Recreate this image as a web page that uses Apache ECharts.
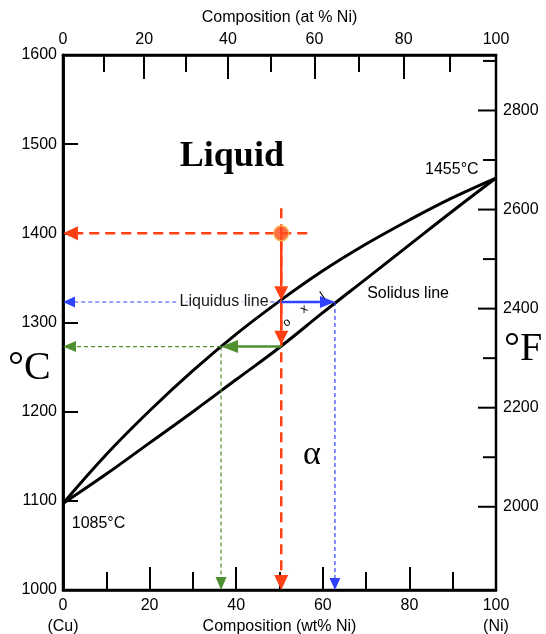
<!DOCTYPE html>
<html><head><meta charset="utf-8">
<script src="https://cdn.jsdelivr.net/npm/echarts@6/dist/echarts.min.js"></script>
<style>html,body{margin:0;padding:0;background:#fff}#c{width:546px;height:634px}</style>
</head><body><div id="c"></div><script>
// ---- data ----
const wtNi = [0, 10, 20, 30, 40, 50, 60, 70, 80, 90, 100];
const liquidusC = [1097, 1152, 1201, 1246, 1287, 1324, 1358, 1388, 1415, 1440, 1462];
const solidusC = [1097, 1130, 1165, 1200, 1236, 1272, 1311, 1349, 1387, 1425, 1462];
const celsiusTicks = [1000, 1100, 1200, 1300, 1400, 1500, 1600];
const fahrenheitMajor = [2000, 2200, 2400, 2600, 2800];
const fahrenheitMinor = [2100, 2300, 2500, 2700, 2900];
const atMajor = [0, 20, 40, 60, 80, 100];
const atMinor = [10, 30, 50, 70, 90];
const alloyPoint = [50.4, 1400];
// arrows: [xFrom, yFrom, xTo, yTo] (wt% Ni, °C), arrowhead at the "to" end
const redDashed = [[56.4, 1400, 0, 1400], [50.4, 1428, 50.4, 1000]];
const redSolid = [[50.4, 1400, 50.4, 1325], [50.4, 1325, 50.4, 1275]];
const blueSolid = [[50.4, 1323, 62.8, 1323]];
const blueDashed = [[50.4, 1323, 0, 1323], [62.8, 1323, 62.8, 1000]];
const greenSolid = [[50.4, 1273, 36.5, 1273]];
const greenDashed = [[36.5, 1273, 0, 1273], [36.5, 1273, 36.5, 1000]];
// annotation texts and their anchors (wt% Ni, °C)
const noteText = ['Liquid', 'α', 'Liquidus line', 'Solidus line', '1455°C', '1085°C', 'o', 'x', 'l'];
const noteX = [39.0, 57.5, 37.2, 79.7, 89.8, 8.2, 51.7, 55.7, 60.0];
const noteY = [1486, 1151, 1323, 1332, 1471, 1075, 1300, 1315, 1330];

const SANS = "'Liberation Sans', Arial, sans-serif";
const SERIF = "'Liberation Serif', 'Times New Roman', serif";
const noteStyle = [
  { font: 'bold 36px ' + SERIF, fill: '#000' },
  { font: '34px ' + SERIF, fill: '#000' },
  { font: '16px ' + SANS, fill: '#1a1a1a', stroke: 'rgba(255,255,255,0.95)', lineWidth: 4 },
  { font: '16px ' + SANS, fill: '#000' },
  { font: '16px ' + SANS, fill: '#000' },
  { font: '16px ' + SANS, fill: '#000' },
  { font: '12px ' + SANS, fill: '#000', rot: 35 },
  { font: '12px ' + SANS, fill: '#000', rot: 35 },
  { font: '12px ' + SANS, fill: '#000', rot: 35 }
];

const M_NI = 58.69, M_CU = 63.55;
const toWt = at => { const a = at * M_NI, b = (100 - at) * M_CU; return (a + b) === 0 ? 0 : 100 * a / (a + b); };
const toAt = w => { const a = w / M_NI, b = (100 - w) / M_CU; return (a + b) === 0 ? 0 : 100 * a / (a + b); };
const cToF = c => c * 9 / 5 + 32;
const fToC = f => (f - 32) * 5 / 9;

const RED = '#ff4015', BLUE = '#3040ff', GREEN = '#4f8f2f';
const axisLine = { show: true, lineStyle: { color: '#000', width: 2.5 } };
const lbl = { color: '#000', fontFamily: SANS, fontSize: 16 };

function arrowSeries(list, color, width, dash, headLen, headHalf) {
  return {
    type: 'custom', coordinateSystem: 'cartesian2d', xAxisIndex: 0, yAxisIndex: 0,
    data: list, encode: { x: [0, 2], y: [1, 3] }, silent: true, clip: false, z: dash ? 3 : 4,
    renderItem: function (params, api) {
      const p0 = api.coord([api.value(0), api.value(1)]);
      const p1 = api.coord([api.value(2), api.value(3)]);
      const dx = p1[0] - p0[0], dy = p1[1] - p0[1];
      const len = Math.sqrt(dx * dx + dy * dy) || 1;
      const ux = dx / len, uy = dy / len;
      const bx = p1[0] - ux * headLen, by = p1[1] - uy * headLen;
      return {
        type: 'group',
        children: [
          { type: 'line', shape: { x1: p0[0], y1: p0[1], x2: bx, y2: by },
            style: { stroke: color, lineWidth: width, lineDash: dash || null } },
          { type: 'polygon', shape: { points: [[p1[0], p1[1]], [bx - uy * headHalf, by + ux * headHalf], [bx + uy * headHalf, by - ux * headHalf]] },
            style: { fill: color } }
        ]
      };
    }
  };
}

// °F ticks on the right edge, placed through the °C scale
function fTickSeries(list, tickLen) {
  return {
    type: 'custom', coordinateSystem: 'cartesian2d', xAxisIndex: 0, yAxisIndex: 0, silent: true, clip: false, z: 5,
    data: list.map(f => [100, fToC(f)]),
    renderItem: function (params, api) {
      const p = api.coord([api.value(0), api.value(1)]);
      return { type: 'line', shape: { x1: p[0] - tickLen, y1: p[1], x2: p[0], y2: p[1] },
        style: { stroke: '#000', lineWidth: 2 } };
    }
  };
}

const chart = echarts.init(document.getElementById('c'), null, { renderer: 'canvas' });
chart.setOption({
  animation: false,
  backgroundColor: '#fff',
  grid: { left: 63, right: 50, top: 55, bottom: 44, containLabel: false, outerBoundsMode: 'none',
    show: true, borderColor: '#000', borderWidth: 2.5, backgroundColor: 'transparent' },
  xAxis: [
    {
      type: 'value', position: 'bottom', min: 0, max: 100, interval: 20,
      name: 'Composition (wt% Ni)', nameLocation: 'middle', nameGap: 29, nameMoveOverlap: false,
      nameTextStyle: { color: '#000', fontFamily: SANS, fontSize: 16 },
      axisLine: axisLine, splitLine: { show: false },
      axisTick: { inside: true, length: 23, lineStyle: { color: '#000', width: 2 } },
      minorTick: { show: true, splitNumber: 2, length: 18, lineStyle: { color: '#000', width: 2 } },
      axisLabel: Object.assign({}, lbl, { margin: 5, lineHeight: 21,
        formatter: v => v === 0 ? '0\n(Cu)' : (v === 100 ? '100\n(Ni)' : String(v)) })
    },
    {
      type: 'value', position: 'top', min: 0, max: 100,
      name: 'Composition (at % Ni)', nameLocation: 'middle', nameGap: 29, nameMoveOverlap: false,
      nameTextStyle: { color: '#000', fontFamily: SANS, fontSize: 16 },
      axisLine: axisLine, splitLine: { show: false },
      axisTick: { inside: true, length: 24, customValues: atMajor.map(toWt), lineStyle: { color: '#000', width: 2 } },
      axisLabel: Object.assign({}, lbl, { margin: 7, customValues: atMajor.map(toWt),
        formatter: v => String(Math.round(toAt(v))) })
    },
    {
      type: 'value', position: 'top', min: 0, max: 100,
      axisLine: { show: false }, splitLine: { show: false }, axisLabel: { show: false },
      axisTick: { inside: true, length: 17, customValues: atMinor.map(toWt), lineStyle: { color: '#000', width: 2 } }
    }
  ],
  yAxis: [
    {
      type: 'value', position: 'left', min: celsiusTicks[0], max: celsiusTicks[celsiusTicks.length - 1], interval: 100,
      axisLine: axisLine, splitLine: { show: false },
      axisTick: { inside: true, length: 15, lineStyle: { color: '#000', width: 2 } },
      axisLabel: Object.assign({}, lbl, { margin: 6, formatter: v => String(v) })
    },
    {
      type: 'value', position: 'right', min: cToF(1000), max: cToF(1600),
      axisLine: axisLine, splitLine: { show: false },
      axisTick: { show: false },
      axisLabel: Object.assign({}, lbl, { margin: 7, customValues: fahrenheitMajor, formatter: v => String(v) })
    }
  ],
  graphic: [
    { type: 'text', left: 8, top: 348, style: { text: '°C', font: '40px ' + SERIF, fill: '#000' } },
    { type: 'text', left: 504, top: 329, style: { text: '°F', font: '40px ' + SERIF, fill: '#000' } }
  ],
  series: [
    { type: 'line', name: 'Liquidus', data: wtNi.map((w, i) => [w, liquidusC[i]]), smooth: 0.4, symbol: 'none',
      lineStyle: { color: '#000', width: 3 }, z: 2, silent: true },
    { type: 'line', name: 'Solidus', data: wtNi.map((w, i) => [w, solidusC[i]]), smooth: 0.4, symbol: 'none',
      lineStyle: { color: '#000', width: 3 }, z: 2, silent: true },
    fTickSeries(fahrenheitMajor, 18),
    fTickSeries(fahrenheitMinor, 13),
    arrowSeries(redDashed, RED, 2.5, [10, 6], 15, 7),
    arrowSeries(blueDashed, BLUE, 1.2, [4, 3], 12, 5.5),
    arrowSeries(greenDashed, GREEN, 1.2, [4, 3], 13, 5.5),
    arrowSeries(redSolid, RED, 2.5, null, 14, 7),
    arrowSeries(blueSolid, BLUE, 2.5, null, 15, 6),
    arrowSeries(greenSolid, GREEN, 2.5, null, 17, 6.5),
    { type: 'scatter', data: [alloyPoint], symbolSize: 15, silent: true, z: 6,
      itemStyle: { color: '#ff4a18', borderColor: '#f3c04a', borderWidth: 1.5 } },
    {
      type: 'custom', coordinateSystem: 'cartesian2d', xAxisIndex: 0, yAxisIndex: 0, silent: true, z: 7, clip: false,
      data: noteText.map((t, i) => [noteX[i], noteY[i]]),
      renderItem: function (params, api) {
        const i = params.dataIndex;
        const p = api.coord([api.value(0), api.value(1)]);
        const s = noteStyle[i];
        return {
          type: 'text', x: p[0], y: p[1], rotation: (s.rot || 0) * Math.PI / 180,
          style: { text: noteText[i], font: s.font, fill: s.fill, stroke: s.stroke || null, lineWidth: s.lineWidth || 0,
            align: 'center', verticalAlign: 'middle' }
        };
      }
    }
  ]
});
</script></body></html>
